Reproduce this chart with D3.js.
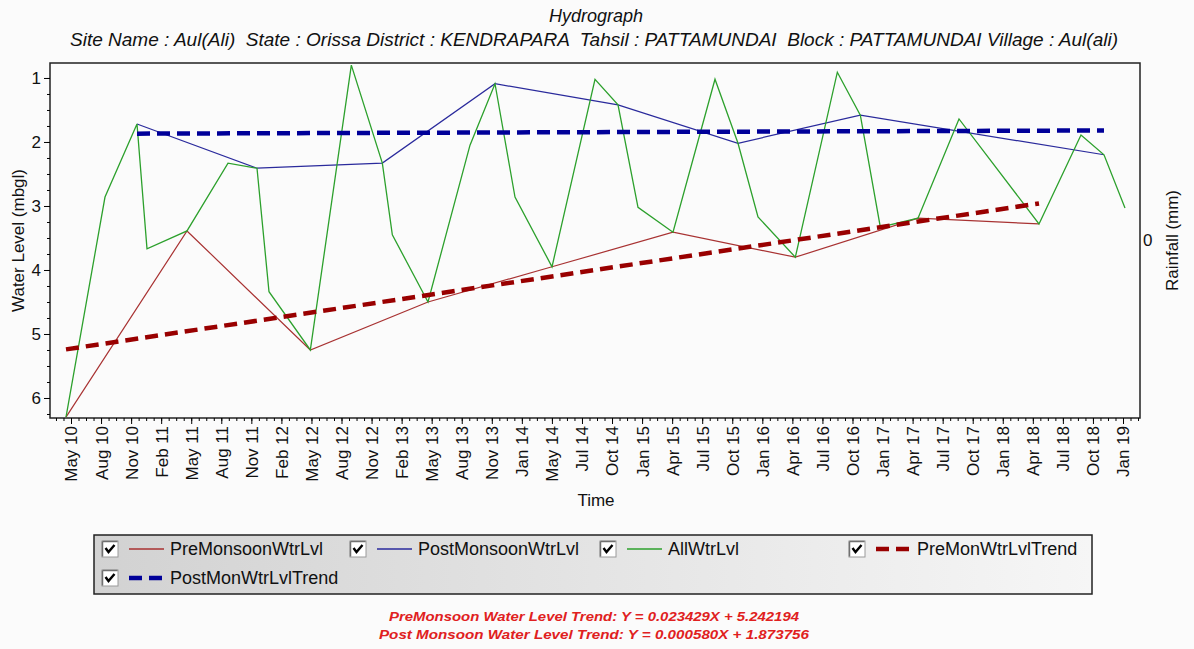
<!DOCTYPE html>
<html>
<head>
<meta charset="utf-8">
<script src="https://cdn.jsdelivr.net/npm/d3@7"></script>
<style>
body { margin: 0; background: #fbfbfb; }
text { font-family: "Liberation Sans", Arial, sans-serif; fill: #111; }
</style>
</head>
<body>
<div id="chart"></div>
<script>
var parse = d3.timeParse("%Y-%m-%d");

// all readings (green)
var allDates = ["2010-05-01","2010-08-26","2010-11-30","2010-12-30","2011-04-29","2011-08-30","2011-11-25","2011-12-31",
	"2012-05-03","2012-09-03","2012-12-05","2013-01-04","2013-04-21","2013-08-25","2013-11-08","2014-01-07",
	"2014-04-28","2014-09-04","2014-11-12","2015-01-11","2015-04-26","2015-08-30","2015-11-07","2016-01-06",
	"2016-04-27","2016-08-31","2016-11-08","2017-01-07","2017-04-30","2017-08-31","2018-04-28","2018-09-01",
	"2018-11-09","2019-01-11"];
var allLevels = [6.30, 2.86, 1.72, 3.67, 3.39, 2.33, 2.41, 4.34,
	5.25, 0.80, 2.33, 3.45, 4.50, 2.05, 1.09, 2.86,
	3.95, 1.02, 1.42, 3.02, 3.41, 1.02, 2.02, 3.17,
	3.80, 0.91, 1.58, 3.33, 3.19, 1.64, 3.28, 1.89,
	2.20, 3.03];

var preDates = ["2010-05-01","2011-04-29","2012-05-03","2013-04-21","2014-04-28","2015-04-26","2016-04-27","2017-04-30","2018-04-28"];
var preLevels = [6.30, 3.39, 5.25, 4.50, 3.95, 3.41, 3.80, 3.19, 3.28];

var postDates = ["2010-11-30","2011-11-25","2012-12-05","2013-11-08","2014-11-12","2015-11-07","2016-11-08","2018-11-09"];
var postLevels = [1.72, 2.41, 2.33, 1.09, 1.42, 2.02, 1.58, 2.20];

var preTrendDates = ["2010-05-01","2018-04-28"];
var preTrendLevels = [5.24, 2.96];
var postTrendDates = ["2010-11-30","2018-11-09"];
var postTrendLevels = [1.87, 1.82];

var xTickLabels = ["May 10","Aug 10","Nov 10","Feb 11","May 11","Aug 11","Nov 11","Feb 12","May 12","Aug 12",
	"Nov 12","Feb 13","May 13","Aug 13","Nov 13","Jan 14","May 14","Jul 14","Oct 14","Jan 15",
	"Apr 15","Jul 15","Oct 15","Jan 16","Apr 16","Jul 16","Oct 16","Jan 17","Apr 17","Jul 17",
	"Oct 17","Jan 18","Apr 18","Jul 18","Oct 18","Jan 19"];
var firstTick = "2010-05-16", lastTick = "2019-01-05";
var yTicks = [1, 2, 3, 4, 5, 6];

var legendNames = ["PreMonsoonWtrLvl","PostMonsoonWtrLvl","AllWtrLvl","PreMonWtrLvlTrend","PostMonWtrLvlTrend"];
var equations = ["PreMonsoon Water Level Trend: Y = 0.023429X + 5.242194",
	"Post Monsoon Water Level Trend: Y = 0.000580X + 1.873756"];

var zip = function(dates, levels) {
	return dates.map(function(d, i) { return { date: parse(d), v: levels[i] }; });
};

var W = 1194, H = 649;
var pLeft = 50, pRight = 1140, pTop = 63, pBottom = 418;

var svg = d3.select("#chart").append("svg")
	.attr("width", W)
	.attr("height", H);

var x = d3.scaleTime()
	.domain([parse("2010-03-14"), parse("2019-02-25")])
	.range([pLeft, pRight]);
var y = d3.scaleLinear()
	.domain([0.766, 6.3125])
	.range([pTop, pBottom]);

// titles
svg.append("text").attr("x", 596).attr("y", 22)
	.attr("text-anchor", "middle").style("font-style", "italic").style("font-size", "18px")
	.text("Hydrograph");
svg.append("text").attr("x", 594).attr("y", 46)
	.attr("text-anchor", "middle").style("font-style", "italic").style("font-size", "18px")
	.attr("textLength", 1048).attr("lengthAdjust", "spacingAndGlyphs")
	.style("white-space", "pre")
	.text("Site Name : Aul(Ali)  State : Orissa District : KENDRAPARA  Tahsil : PATTAMUNDAI  Block : PATTAMUNDAI Village : Aul(ali)");

// plot frame
svg.append("rect").attr("x", pLeft).attr("y", pTop)
	.attr("width", pRight - pLeft).attr("height", pBottom - pTop)
	.attr("fill", "#fbfbfb").attr("stroke", "#222").attr("stroke-width", 1.5);

// y axis
var yMinor = d3.range(1, 6.31, 0.25);
svg.append("g").attr("transform", "translate(" + pLeft + ",0)")
	.call(d3.axisLeft(y).tickValues(yMinor).tickSize(3).tickFormat(""))
	.call(function(g) { g.select(".domain").remove(); });
var gy = svg.append("g").attr("transform", "translate(" + pLeft + ",0)")
	.call(d3.axisLeft(y).tickValues(yTicks).tickSize(6).tickPadding(3).tickFormat(d3.format("d")));
gy.select(".domain").remove();
gy.selectAll("text").style("font-size", "17px").attr("fill", "#111");

// x axis
var t0 = parse(firstTick).getTime(), t1 = parse(lastTick).getTime();
var step = (t1 - t0) / (xTickLabels.length - 1);
var majorDates = xTickLabels.map(function(l, i) { return new Date(t0 + i * step); });
var minorDates = [];
var dom = x.domain();
for (var t = t0 - 3 * step / 4; t <= dom[1].getTime(); t += step / 4) {
	if (t >= dom[0].getTime()) minorDates.push(new Date(t));
}
svg.append("g").attr("transform", "translate(0," + pBottom + ")")
	.call(d3.axisBottom(x).tickValues(minorDates).tickSize(3).tickFormat(""))
	.call(function(g) { g.select(".domain").remove(); });
var gx = svg.append("g").attr("transform", "translate(0," + pBottom + ")")
	.call(d3.axisBottom(x).tickValues(majorDates).tickSize(6)
		.tickFormat(function(d, i) { return xTickLabels[i]; }));
gx.select(".domain").remove();
gx.selectAll("text")
	.style("font-size", "17px").attr("fill", "#111")
	.attr("transform", "rotate(-90)")
	.attr("x", -8).attr("y", 0).attr("dy", "0.35em")
	.style("text-anchor", "end");

// axis titles
svg.append("text").attr("x", 596).attr("y", 506).attr("text-anchor", "middle")
	.style("font-size", "17px").text("Time");
svg.append("text").attr("transform", "translate(24," + ((pTop + pBottom) / 2) + ") rotate(-90)")
	.attr("text-anchor", "middle").style("font-size", "17px").text("Water Level (mbgl)");
svg.append("text").attr("transform", "translate(1178," + ((pTop + pBottom) / 2) + ") rotate(-90)")
	.attr("text-anchor", "middle").style("font-size", "17px").text("Rainfall (mm)");
svg.append("text").attr("x", pRight + 3).attr("y", (pTop + pBottom) / 2).attr("dy", "0.35em")
	.style("font-size", "17px").text("0");

// lines
var line = d3.line()
	.x(function(d) { return x(d.date); })
	.y(function(d) { return y(d.v); });

var series = [
	{ data: zip(preDates, preLevels), color: "#a83232", width: 1.2, dash: null },
	{ data: zip(postDates, postLevels), color: "#2a2a9c", width: 1.2, dash: null },
	{ data: zip(allDates, allLevels), color: "#2ca02c", width: 1.3, dash: null },
	{ data: zip(preTrendDates, preTrendLevels), color: "#990000", width: 4.5, dash: "13,7" },
	{ data: zip(postTrendDates, postTrendLevels), color: "#000099", width: 4.5, dash: "13,7" }
];

series.forEach(function(s) {
	svg.append("path")
		.datum(s.data)
		.attr("d", line)
		.attr("fill", "none")
		.attr("stroke", s.color)
		.attr("stroke-width", s.width)
		.attr("stroke-dasharray", s.dash);
});

// legend
var grad = svg.append("defs").append("linearGradient").attr("id", "lg")
	.attr("x1", "0%").attr("x2", "100%").attr("y1", "0%").attr("y2", "0%");
grad.append("stop").attr("offset", "0%").attr("stop-color", "#d2d2d2");
grad.append("stop").attr("offset", "100%").attr("stop-color", "#f6f6f6");

svg.append("rect").attr("x", 94).attr("y", 535).attr("width", 998).attr("height", 59)
	.attr("fill", "url(#lg)").attr("stroke", "#222").attr("stroke-width", 1.5);

var legendPos = [[102, 549], [350, 549], [600, 549], [849, 549], [102, 578]];

legendNames.forEach(function(name, i) {
	var p = legendPos[i], s = series[i];
	var g = svg.append("g").attr("transform", "translate(" + p[0] + "," + p[1] + ")");
	g.append("rect").attr("x", 0).attr("y", -8).attr("width", 16).attr("height", 16)
		.attr("fill", "#fff").attr("stroke", "#9a9a9a").attr("stroke-width", 1);
	g.append("path").attr("d", "M0.5,-7.5 H15.5 M0.5,-7.5 V7.5")
		.attr("stroke", "#707070").attr("stroke-width", 1.5).attr("fill", "none");
	g.append("path").attr("d", "M3.5,-1 L6.5,3 L12.5,-4")
		.attr("stroke", "#000").attr("stroke-width", 2.4).attr("fill", "none");
	if (s.dash) {
		g.append("line").attr("x1", 27).attr("x2", 60).attr("y1", 0).attr("y2", 0)
			.attr("stroke", s.color).attr("stroke-width", 4.5).attr("stroke-dasharray", "13,7");
	} else {
		g.append("line").attr("x1", 27).attr("x2", 62).attr("y1", 0).attr("y2", 0)
			.attr("stroke", s.color).attr("stroke-width", 1.3);
	}
	g.append("text").attr("x", 68).attr("y", 0).attr("dy", "0.35em")
		.style("font-size", "18px").text(name);
});

// trend equations
var eqWidths = [410, 430];
equations.forEach(function(eq, i) {
	svg.append("text").attr("x", 594).attr("y", 621 + i * 18)
		.attr("text-anchor", "middle")
		.attr("textLength", eqWidths[i]).attr("lengthAdjust", "spacingAndGlyphs")
		.style("font-size", "13.5px").style("font-style", "italic").style("font-weight", "bold")
		.style("fill", "#e02020")
		.text(eq);
});
</script>
</body>
</html>
